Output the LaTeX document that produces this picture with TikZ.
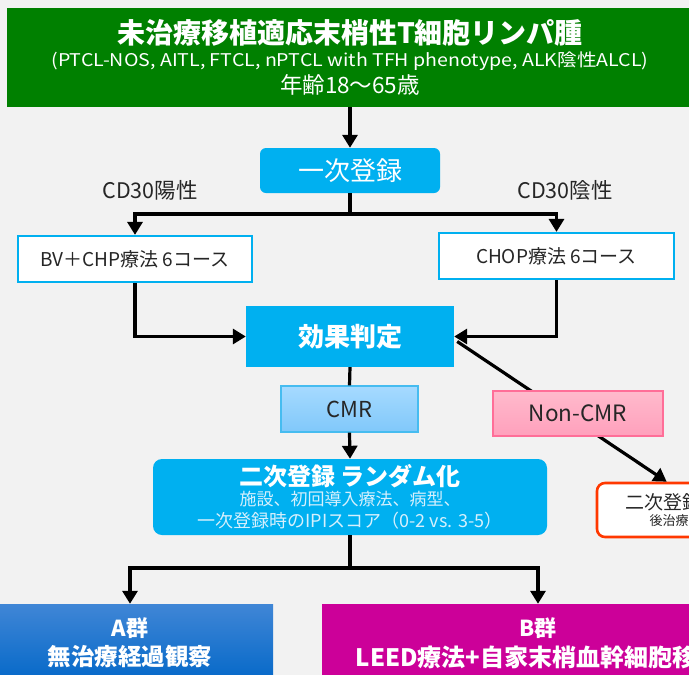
\documentclass[tikz,border=0pt]{standalone}
\usepackage{fontspec}
\usepackage{graphicx}
\setmainfont{Noto Sans CJK JP}
\usetikzlibrary{arrows.meta}

\definecolor{bggray}{RGB}{242,242,242}
\definecolor{bannergreen}{RGB}{0,128,0}
\definecolor{regcyan}{RGB}{0,176,240}
\definecolor{paletext}{RGB}{214,240,253}
\definecolor{cmrtop}{RGB}{166,218,255}
\definecolor{cmrbot}{RGB}{128,200,250}
\definecolor{cmrline}{RGB}{70,188,240}
\definecolor{ncmrtop}{RGB}{255,186,204}
\definecolor{ncmrbot}{RGB}{255,160,188}
\definecolor{ncmrline}{RGB}{255,110,152}
\definecolor{stopred}{RGB}{255,56,0}
\definecolor{armAtop}{RGB}{64,134,214}
\definecolor{armAbot}{RGB}{4,104,200}
\definecolor{armBmag}{RGB}{204,0,153}
\definecolor{darktext}{RGB}{38,38,38}

\newcommand{\fs}[1]{\fontsize{#1}{#1}\selectfont}

\begin{document}
\begin{tikzpicture}[x=1pt,y=-1pt,
    flow/.style={line width=3.2pt,draw=black},
    arr/.style={flow,-{Triangle[length=13pt,width=15pt]}},
    regbox/.style={fill=regcyan,text=white,rounded corners=6pt,align=center,inner sep=0pt},
    armbox/.style={draw=regcyan,line width=2.2pt,fill=white,text=darktext,inner sep=0pt},
    tagbox/.style={line width=1.2pt,text=darktext,inner sep=0pt}]
    \useasboundingbox (0,0) rectangle (689,675);
    \clip (0,0) rectangle (689,675);
    \fill[bggray] (0,0) rectangle (689,675);

    %banner
    \node[fill=bannergreen,text=white,align=center,minimum width=686pt,minimum height=99pt,inner sep=0pt] (banner) at (350,57.5)
        {{\fs{28}\bfseries 未治療移植適応末梢性T細胞リンパ腫}\\[4pt]
         {\fs{17.5}\scalebox{1.12}[1]{(PTCL-NOS, AITL, FTCL, nPTCL with TFH phenotype, ALK陰性ALCL)}}\\[3pt]
         {\fs{22.5}年齢18〜65歳}};

    %first registration
    \node[regbox,minimum width=180pt,minimum height=45pt,font=\fs{26}] (reg1) at (350,170.5) {一次登録};
    \node[font=\fs{21.5},text=darktext] (cdpos) at (150,190) {CD30陽性};
    \node[font=\fs{21.5},text=darktext] (cdneg) at (565,190) {CD30陰性};

    \node[armbox,minimum width=234pt,minimum height=46pt,font=\fs{19}] (bvchp) at (135,259) {BV＋CHP療法 6コース};
    \node[armbox,minimum width=235pt,minimum height=46pt,font=\fs{19}] (chop) at (556.5,256) {CHOP療法 6コース};

    \node[fill=regcyan,text=white,minimum width=208pt,minimum height=61pt,font=\fs{26}\bfseries,inner sep=0pt] (eval) at (350,336.5) {効果判定};

    \coordinate (split1) at (350,214);
    \draw[arr] (banner.south) -- (reg1.north);
    \draw[flow] (reg1.south) -- (split1);
    \draw[arr] (split1) -| (bvchp.north);
    \draw[arr] (split1) -| (chop.north);
    \draw[arr] (bvchp.south) |- (eval.west);
    \draw[arr] (chop.south) |- (eval.east);

    %response
    \node[tagbox,draw=cmrline,top color=cmrtop,bottom color=cmrbot,minimum width=137pt,minimum height=46pt,font=\fs{22}] (cmr) at (349.5,409) {CMR};

    \node[regbox,minimum width=394pt,minimum height=76pt,rounded corners=9pt] (reg2) at (350,497)
        {{\fs{24}\bfseries 二次登録 ランダム化}\\[2pt]
         {\fs{17}\color{paletext}施設、初回導入療法、病型、}\\[4pt]
         {\fs{18}\color{paletext}一次登録時のIPIスコア（0-2 vs. 3-5）}};

    \node[draw=stopred,line width=2.6pt,fill=white,rounded corners=8pt,minimum width=170pt,minimum height=54pt,align=center,text=darktext,inner sep=0pt] (noreg) at (682,510)
        {{\fs{19}二次登録不可}\\[2pt]{\fs{13}後治療自由}};

    \draw[flow] (eval.south) -- (cmr.north);
    \draw[arr] (cmr.south) -- (reg2.north);
    \draw[arr] ([shift={(3,5)}]eval.east) -- ([xshift=71pt]noreg.north west);

    \node[tagbox,draw=ncmrline,top color=ncmrtop,bottom color=ncmrbot,minimum width=170pt,minimum height=45pt,font=\fs{22.5}] (noncmr) at (578,413.5) {Non-CMR};

    %arms
    \node[top color=armAtop,bottom color=armAbot,text=white,minimum width=286pt,minimum height=78pt,align=center,inner sep=0pt,font=\bfseries] (armA) at (130,643)
        {{\fs{22}A群}\\[6pt]{\fs{23.5}無治療経過観察}};
    \node[fill=armBmag,text=white,minimum width=432pt,minimum height=78pt,align=center,inner sep=0pt,font=\bfseries] (armB) at (538,643)
        {{\fs{22}B群}\\[6pt]{\fs{24}LEED療法+自家末梢血幹細胞移植}};

    \coordinate (split2) at (350,568);
    \draw[flow] (reg2.south) -- (split2);
    \draw[arr] (split2) -| (armA.north);
    \draw[arr] (split2) -| (armB.north);
\end{tikzpicture}
\end{document}
